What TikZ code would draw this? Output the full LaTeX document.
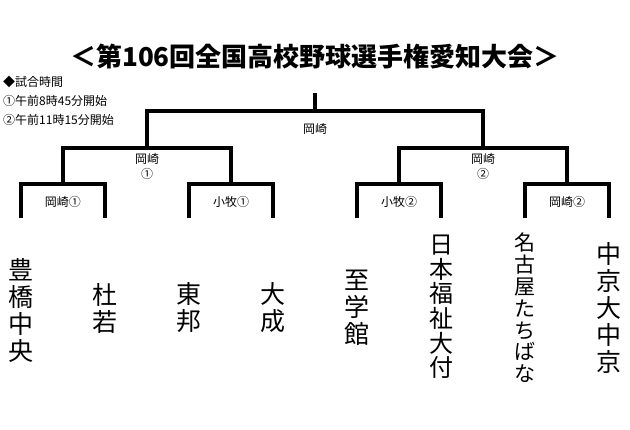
\documentclass[tikz,border=0pt]{standalone}
\usepackage{fontspec}
\setmainfont{Noto Sans CJK JP}

\begin{document}
\begin{tikzpicture}[x=1pt,y=-1pt,bracket/.style={line width=4pt,line join=miter}]
            \useasboundingbox (0,0) rectangle (630,430);
            \node (title) at (315,57) {\fontsize{26}{28}\selectfont\bfseries ＜第106回全国高校野球選手権愛知大会＞};
            \begin{scope}[every node/.style={anchor=west,inner sep=0pt,font=\fontsize{12}{14}\selectfont}]
                \node (h0) at (3,82) {◆試合時間};
                \node (h1) at (3,101) {①午前8時45分開始};
                \node (h2) at (3,120) {②午前11時15分開始};
            \end{scope}
            \begin{scope}[every node/.style={align=center,inner sep=0pt,font=\fontsize{25}{27}\selectfont}]
                \node (t1) at (21,310) {豊\\橋\\中\\央};
                \node (t2) at (105,308) {杜\\若};
                \node (t3) at (189,308) {東\\邦};
                \node (t4) at (273,308) {大\\成};
                \node (t5) at (357,308) {至\\学\\館};
                \node[font=\fontsize{24}{24.6}\selectfont] (t6) at (441,307) {日\\本\\福\\祉\\大\\付};
                \node[font=\fontsize{21}{21.8}\selectfont] (t7) at (525,308) {名\\古\\屋\\た\\ち\\ば\\な};
                \node (t8) at (609,308) {中\\京\\大\\中\\京};
            \end{scope}
            \coordinate (l1) at (21,218);
            \coordinate (l2) at (105,218);
            \coordinate (l3) at (189,218);
            \coordinate (l4) at (273,218);
            \coordinate (l5) at (357,218);
            \coordinate (l6) at (441,218);
            \coordinate (l7) at (525,218);
            \coordinate (l8) at (609,218);
            \coordinate (q1) at (63,184);
            \coordinate (q2) at (231,184);
            \coordinate (q3) at (399,184);
            \coordinate (q4) at (567,184);
            \coordinate (s1) at (147,148);
            \coordinate (s2) at (483,148);
            \coordinate (f) at (315,111);
            \coordinate (top) at (315,93);
            \draw[bracket] (l1) |- (q1) -| (l2);
            \draw[bracket] (l3) |- (q2) -| (l4);
            \draw[bracket] (l5) |- (q3) -| (l6);
            \draw[bracket] (l7) |- (q4) -| (l8);
            \draw[bracket] (q1) |- (s1) -| (q2);
            \draw[bracket] (q3) |- (s2) -| (q4);
            \draw[bracket] (s1) |- (f) -| (s2);
            \draw[bracket] (f) -- (top);
            \begin{scope}[every node/.style={align=center,inner sep=0pt,font=\fontsize{12}{15}\selectfont}]
                \node (w1) at (63,202) {岡崎①};
                \node (w2) at (231,202) {小牧①};
                \node (w3) at (399,202) {小牧②};
                \node (w4) at (567,202) {岡崎②};
                \node (w5) at (147,166) {岡崎\\①};
                \node (w6) at (483,166) {岡崎\\②};
                \node (w7) at (315,129) {岡崎};
            \end{scope}
        \end{tikzpicture}
\end{document}
